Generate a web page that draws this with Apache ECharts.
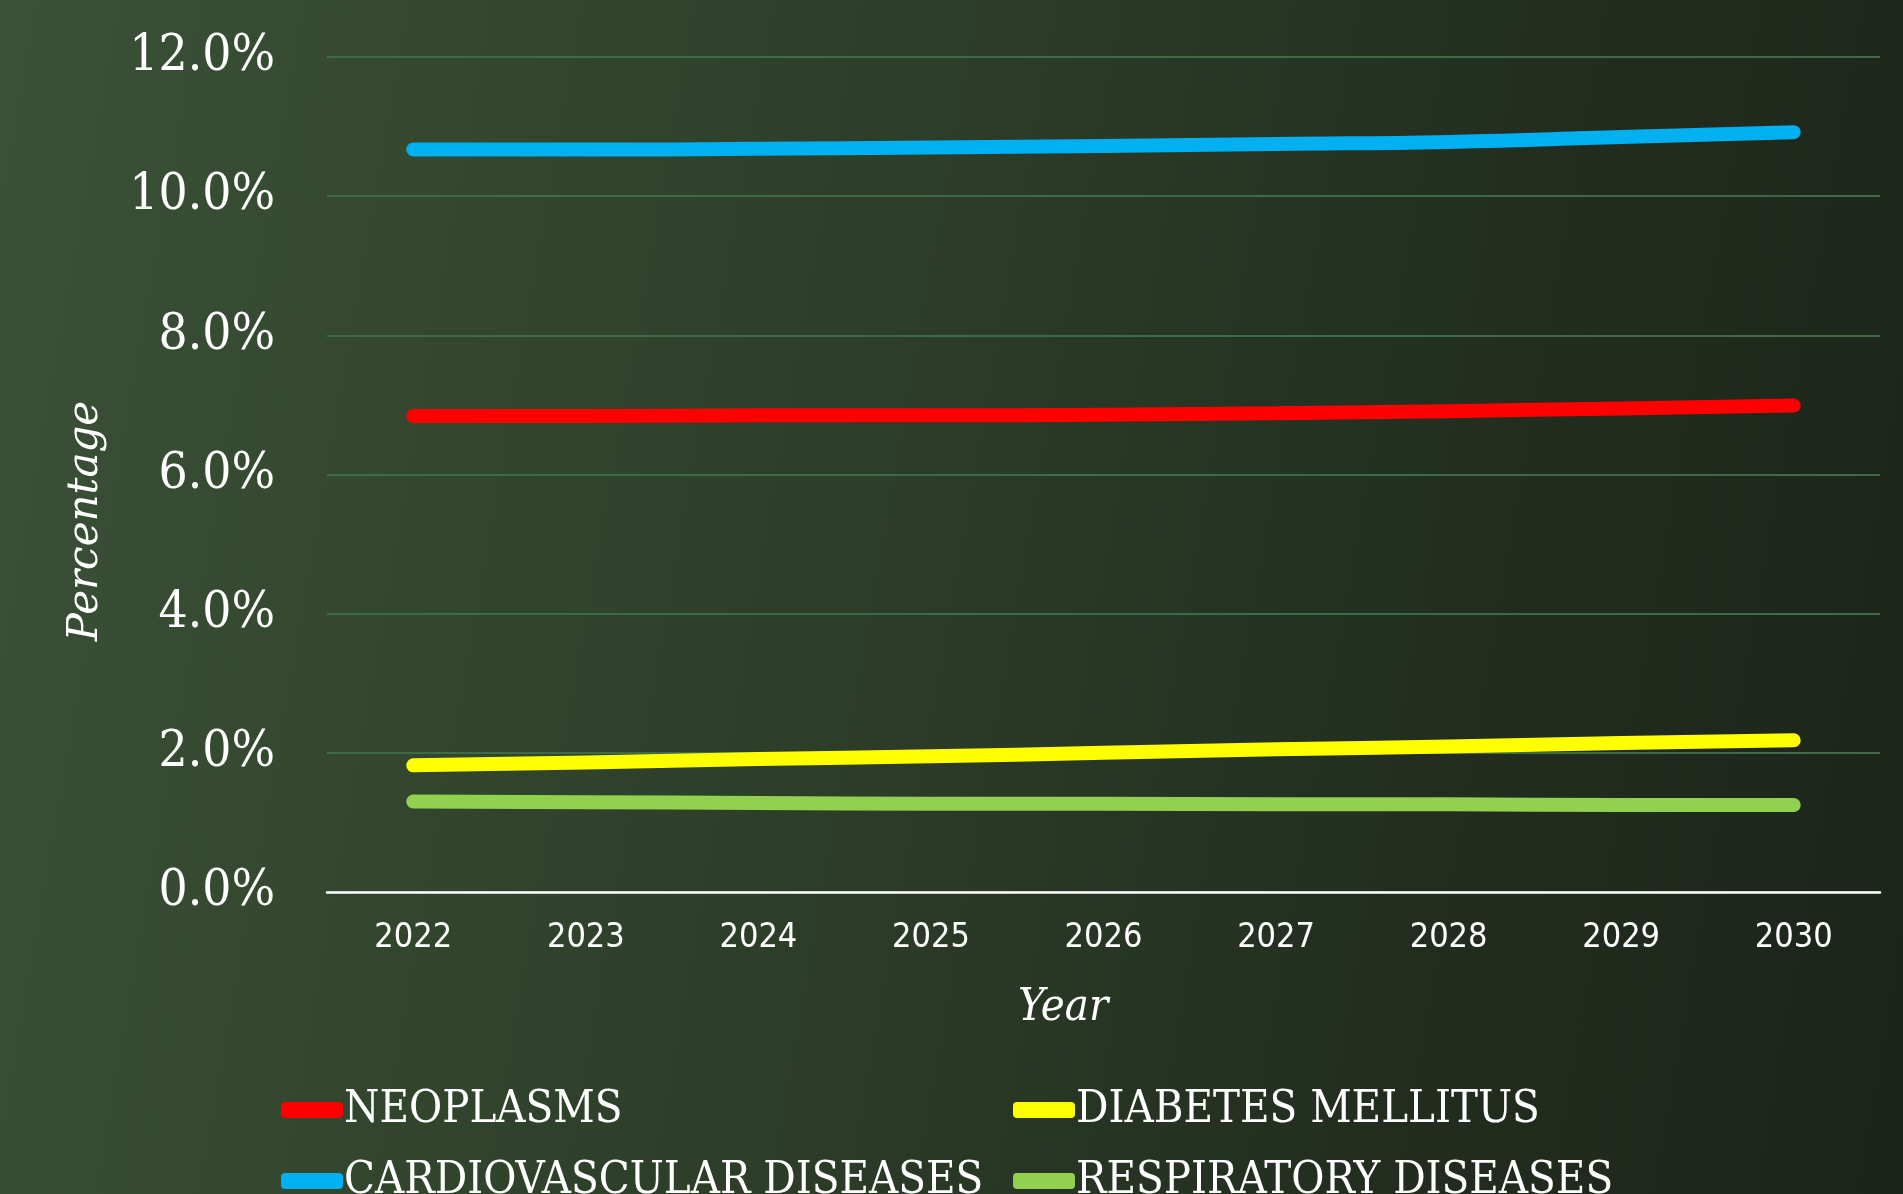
<!DOCTYPE html>
<html>
<head>
<meta charset="utf-8">
<script src="https://cdn.jsdelivr.net/npm/echarts@6/dist/echarts.min.js"></script>
<style>
html,body{margin:0;padding:0;width:1903px;height:1194px;overflow:hidden;
background:linear-gradient(100deg,#3b5238 0%,#34492f 20%,#2b3b27 50%,#222d1f 75%,#1c2419 100%);}
#chart{width:1903px;height:1194px;}
</style>
</head>
<body>
<div id="chart"></div>
<script>
const years = ['2022','2023','2024','2025','2026','2027','2028','2029','2030'];
const neoplasms = [6.84, 6.84, 6.85, 6.85, 6.86, 6.88, 6.91, 6.95, 6.99];
const diabetes = [1.82, 1.86, 1.91, 1.95, 2.00, 2.05, 2.09, 2.14, 2.18];
const cardio = [10.67, 10.67, 10.68, 10.70, 10.72, 10.75, 10.78, 10.85, 10.92];
const respiratory = [1.30, 1.29, 1.28, 1.27, 1.27, 1.26, 1.26, 1.25, 1.25];
const seriesNames = ['NEOPLASMS','DIABETES MELLITUS','CARDIOVASCULAR DISEASES','RESPIRATORY DISEASES'];
const seriesColors = ['#FF0000','#FFFF00','#00B0F0','#92D050'];
const yTicks = [0, 2, 4, 6, 8, 10, 12];

const chart = echarts.init(document.getElementById('chart'), null, {renderer:'canvas'});
const serifC = '"DejaVu Serif Condensed","DejaVu Serif",serif';
const mk = (name, data, i) => ({
  name, type:'line', data, smooth:true, showSymbol:false, symbol:'none',
  lineStyle:{color:seriesColors[i], width:14, cap:'round', join:'round'},
  itemStyle:{color:seriesColors[i]}
});
const legendText = {color:'#ffffff', fontFamily:serifC, fontSize:45, lineHeight:54, padding:[0,0,0,-4]};
const legendPos = [[281,1083],[1013,1083],[281,1154],[1013,1154]];
const legends = seriesNames.map((n,i)=>({
  orient:'horizontal', left:legendPos[i][0], top:legendPos[i][1], itemWidth:62, itemHeight:16,
  itemGap:0, icon:'roundRect', data:[n], textStyle:legendText, padding:0, height:60
}));
chart.setOption({
  backgroundColor:'transparent',
  animation:false,
  grid:{left:327, right:23, top:57, bottom:302, containLabel:false},
  xAxis:{
    type:'category', data:years, boundaryGap:true,
    axisLine:{show:true, lineStyle:{color:'#ffffff', width:2.5}},
    axisTick:{show:false},
    axisLabel:{color:'#ffffff', fontFamily:'"DejaVu Sans Condensed","DejaVu Sans",sans-serif', fontSize:34, margin:29}
  },
  yAxis:{
    type:'value', min:yTicks[0], max:yTicks[yTicks.length-1], interval:2,
    axisLine:{show:false}, axisTick:{show:false},
    splitLine:{show:true, lineStyle:{color:'#3e6b47', width:2}},
    axisLabel:{color:'#ffffff', fontFamily:serifC, fontSize:51, margin:52,
      formatter:v=>v.toFixed(1)+'%'}
  },
  legend:legends,
  graphic:[
    {type:'text', left:1018, top:986, style:{text:'Year', fill:'#ffffff',
      font:'italic 45px "DejaVu Serif Condensed","DejaVu Serif",serif'}},
    {type:'text', x:86, y:521, rotation:Math.PI/2, style:{text:'Percentage', fill:'#ffffff',
      font:'italic 42px "DejaVu Serif",serif', align:'center', verticalAlign:'middle'}}
  ],
  series:[
    mk(seriesNames[0], neoplasms, 0),
    mk(seriesNames[1], diabetes, 1),
    mk(seriesNames[2], cardio, 2),
    mk(seriesNames[3], respiratory, 3)
  ]
});
</script>
</body>
</html>
